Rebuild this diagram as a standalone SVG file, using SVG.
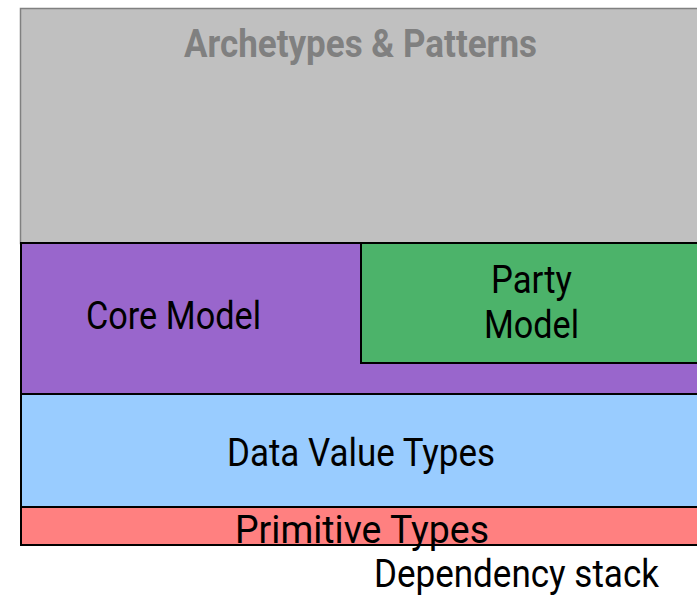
<svg xmlns="http://www.w3.org/2000/svg" width="697" height="599" viewBox="0 0 697 599">
<style>
.lbl{font-family:"Roboto","Liberation Sans",sans-serif;font-size:39px;fill:#000;text-anchor:start}
.box{stroke:#000;stroke-width:2}
</style>
<rect width="697" height="599" fill="#fff"/>
<g id="archetypes">
<rect x="20.5" y="8.5" width="690" height="235" fill="#c0c0c0" stroke="#808080" stroke-width="1.5"/>
<text class="lbl" x="184" y="57" textLength="353" lengthAdjust="spacingAndGlyphs" style="fill:#808080;font-weight:bold">Archetypes &amp; Patterns</text>
</g>
<g id="core">
<rect class="box" x="21" y="243" width="690" height="151" fill="#9966cc"/>
<text class="lbl" x="86" y="329" textLength="175" lengthAdjust="spacingAndGlyphs">Core Model</text>
</g>
<g id="party">
<rect class="box" x="361" y="243" width="350" height="120" fill="#4cb36a"/>
<text class="lbl" x="491" y="293" textLength="81" lengthAdjust="spacingAndGlyphs">Party</text>
<text class="lbl" x="484" y="338" textLength="95" lengthAdjust="spacingAndGlyphs">Model</text>
</g>
<g id="datavalue">
<rect class="box" x="21" y="394" width="690" height="113" fill="#99ccff"/>
<text class="lbl" x="227" y="466" textLength="268" lengthAdjust="spacingAndGlyphs">Data Value Types</text>
</g>
<g id="primitive">
<rect class="box" x="21" y="507" width="690" height="38" fill="#ff8080"/>
<text class="lbl" x="235" y="543" textLength="254" lengthAdjust="spacingAndGlyphs">Primitive Types</text>
</g>
<g id="connectors"/>
<text class="lbl" x="374" y="587" textLength="285" lengthAdjust="spacingAndGlyphs">Dependency stack</text>
</svg>
